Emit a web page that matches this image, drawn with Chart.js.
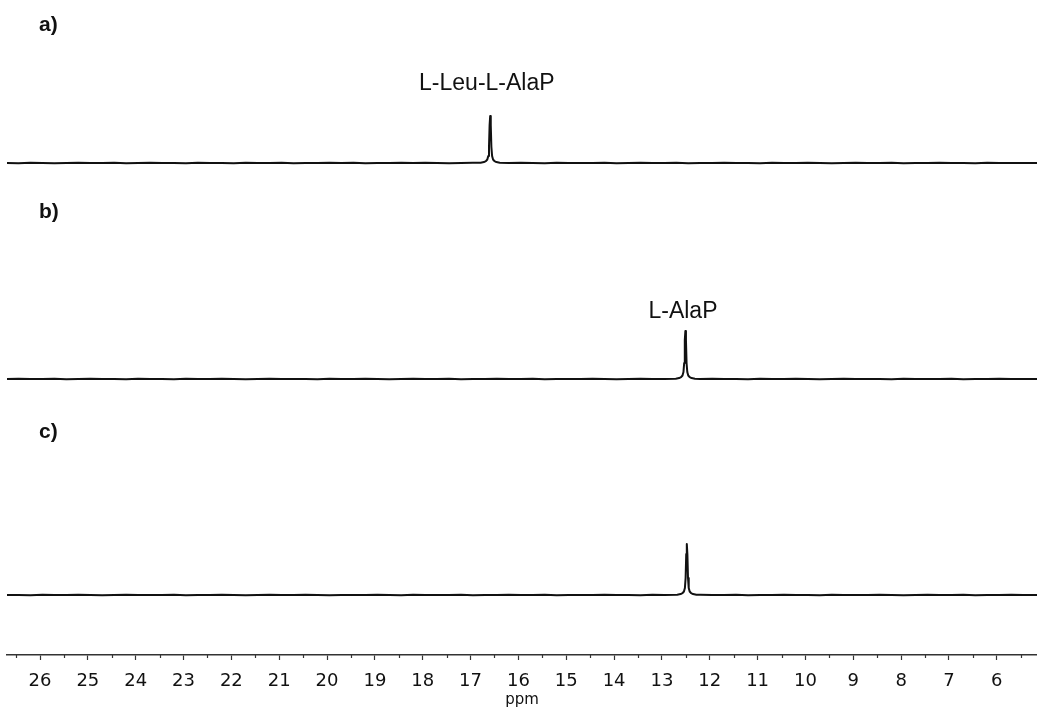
<!DOCTYPE html>
<html>
<head>
<meta charset="utf-8">
<title>NMR spectra</title>
<script src="https://cdn.jsdelivr.net/npm/chart.js@4.4.1/dist/chart.umd.min.js"></script>
<style>
  html, body { margin: 0; padding: 0; background: #fff; }
  #wrap { width: 1037px; height: 709px; }
</style>
</head>
<body>
<div id="wrap"><canvas id="nmr" width="1037" height="709"></canvas></div>
<script>
// x axis (ppm, reversed)
const ppmMin = 5.16;
const ppmMax = 26.69;
const xTicks = [26, 25, 24, 23, 22, 21, 20, 19, 18, 17, 16, 15, 14, 13, 12, 11, 10, 9, 8, 7, 6];

// baseline sample positions (ppm) shared by all three traces
const baselinePpm = [26.69, 26.45, 26.2, 25.95, 25.7, 25.45, 25.2, 24.95, 24.7, 24.45, 24.2, 23.95,
  23.7, 23.45, 23.2, 22.95, 22.7, 22.45, 22.2, 21.95, 21.7, 21.45, 21.2, 20.95, 20.7, 20.45,
  20.2, 19.95, 19.7, 19.45, 19.2, 18.95, 18.7, 18.45, 18.2, 17.95, 17.7, 17.45, 17.2, 16.95,
  16.7, 16.45, 16.2, 15.95, 15.7, 15.45, 15.2, 14.95, 14.7, 14.45, 14.2, 13.95, 13.7, 13.45,
  13.2, 12.95, 12.7, 12.45, 12.2, 11.95, 11.7, 11.45, 11.2, 10.95, 10.7, 10.45, 10.2, 9.95,
  9.7, 9.45, 9.2, 8.95, 8.7, 8.45, 8.2, 7.95, 7.7, 7.45, 7.2, 6.95, 6.7, 6.45, 6.2, 5.95,
  5.7, 5.45, 5.16];

// baseline noise (same units as peak heights)
const noiseA = [0.1, -0.2, 0.2, 0.0, -0.3, 0.1, 0.3, -0.1, 0.0, 0.2, -0.2, 0.1, 0.3, -0.1, 0.1,
  -0.3, 0.2, 0.0, 0.1, -0.2, 0.3, 0.0, -0.1, 0.2, -0.2, 0.1, 0.0, 0.3, -0.1, 0.2, -0.3, 0.1,
  0.0, 0.2, -0.1, 0.3, 0.0, -0.2, 0.1, 0.2, 0.0, 0.1, -0.1, 0.2, 0.0, -0.2, 0.3, 0.1, -0.1,
  0.0, 0.2, -0.2, 0.1, 0.3, -0.1, 0.0, 0.2, -0.2, 0.1, 0.0, 0.3, -0.1, 0.1, -0.2, 0.2, 0.0,
  -0.1, 0.3, 0.0, -0.2, 0.1, 0.2, -0.1, 0.0, 0.3, -0.2, 0.1, 0.0, 0.2, -0.1, 0.1, -0.2, 0.3,
  0.0, 0.1, -0.1, 0.0];
const noiseB = [0.0, 0.2, -0.1, 0.1, 0.3, -0.2, 0.0, 0.2, -0.1, 0.1, -0.3, 0.2, 0.0, 0.1, -0.2,
  0.3, 0.0, -0.1, 0.2, 0.1, -0.2, 0.0, 0.3, -0.1, 0.1, 0.0, -0.2, 0.2, 0.1, -0.1, 0.3, 0.0,
  -0.2, 0.1, 0.2, -0.1, 0.0, 0.3, -0.2, 0.1, 0.0, 0.2, -0.1, 0.1, 0.3, -0.2, 0.0, 0.1, -0.1,
  0.2, 0.0, -0.3, 0.1, 0.2, -0.1, 0.0, 0.1, 0.0, -0.1, 0.2, 0.0, 0.1, -0.2, 0.3, 0.0, -0.1,
  0.2, 0.1, -0.2, 0.0, 0.3, -0.1, 0.1, 0.0, -0.2, 0.2, 0.1, -0.1, 0.0, 0.3, -0.2, 0.1, 0.0,
  0.2, -0.1, 0.1, 0.0];
const noiseC = [0.1, 0.0, -0.2, 0.2, 0.0, -0.1, 0.3, 0.1, -0.2, 0.0, 0.2, -0.1, 0.1, 0.0, 0.3,
  -0.2, 0.1, -0.1, 0.2, 0.0, -0.3, 0.1, 0.2, 0.0, -0.1, 0.3, 0.1, -0.2, 0.0, 0.1, -0.1, 0.2,
  0.0, -0.2, 0.3, 0.1, -0.1, 0.0, 0.2, -0.2, 0.1, 0.0, 0.3, -0.1, 0.0, 0.2, -0.2, 0.1, 0.0,
  -0.1, 0.3, 0.0, 0.1, -0.2, 0.2, 0.0, 0.1, 0.0, 0.2, -0.1, 0.0, 0.3, -0.2, 0.1, 0.0, 0.2,
  -0.1, 0.1, -0.3, 0.2, 0.0, 0.1, -0.1, 0.3, 0.0, -0.2, 0.1, 0.2, -0.1, 0.0, 0.2, -0.2, 0.1,
  0.0, 0.3, -0.1, 0.1];

// peak centres (ppm) and peak shapes (offset from centre in ppm, height)
const peakCentres = [16.59, 12.51, 12.48];
const peakOffsets = [-0.2, -0.13, -0.09, -0.06, -0.04, -0.025, -0.012, 0, 0.012, 0.025, 0.04, 0.06, 0.09, 0.13, 0.2];
const peakA = [0.3, 0.9, 1.8, 3.5, 7, 16, 38, 47, 38, 16, 7, 3.5, 1.8, 0.9, 0.3];
const peakB = [0.3, 0.9, 1.8, 3.5, 7, 16, 39, 48, 39, 16, 7, 3.5, 1.8, 0.9, 0.3];
const peakC = [0.3, 0.9, 1.8, 3.5, 7, 17, 41, 51, 41, 17, 7, 3.5, 1.8, 0.9, 0.3];

// vertical stacking of the three traces (y scale runs 0..655)
const traceOffsets = [492, 276, 60];

// annotations
const panelLabels = ['a)', 'b)', 'c)'];
const panelLabelY = [25, 212, 432];
const peakLabels = ['L-Leu-L-AlaP', 'L-AlaP'];
const peakLabelPpm = [16.66, 12.56];
const peakLabelY = [571, 343];

function buildTrace(noise, centre, shape, offset) {
  const pts = [];
  baselinePpm.forEach((x, i) => {
    if (Math.abs(x - centre) > 0.22) pts.push({ x: x, y: offset + noise[i] });
  });
  peakOffsets.forEach((dx, i) => pts.push({ x: centre + dx, y: offset + shape[i] }));
  pts.sort((p, q) => q.x - p.x);
  return pts;
}

const traces = [
  buildTrace(noiseA, peakCentres[0], peakA, traceOffsets[0]),
  buildTrace(noiseB, peakCentres[1], peakB, traceOffsets[1]),
  buildTrace(noiseC, peakCentres[2], peakC, traceOffsets[2])
];

// minor ticks at half ppm + text annotations
const annotatePlugin = {
  id: 'annotate',
  afterDraw(chart) {
    const ctx = chart.ctx;
    const xs = chart.scales.x;
    const ys = chart.scales.y;
    const axisY = xs.top;
    ctx.save();
    ctx.strokeStyle = '#333';
    ctx.lineWidth = 1.2;
    for (let v = 26.5; v > ppmMin; v -= 1) {
      const px = Math.round(xs.getPixelForValue(v)) + 0.5;
      ctx.beginPath();
      ctx.moveTo(px, axisY);
      ctx.lineTo(px, axisY + 3);
      ctx.stroke();
    }
    ctx.fillStyle = '#111';
    ctx.textBaseline = 'middle';
    ctx.textAlign = 'left';
    ctx.font = 'bold 21px "Liberation Sans", Arial, sans-serif';
    panelLabels.forEach((t, i) => ctx.fillText(t, 39, panelLabelY[i]));
    ctx.textAlign = 'center';
    ctx.font = '23px "Liberation Sans", Arial, sans-serif';
    peakLabels.forEach((t, i) => {
      ctx.fillText(t, xs.getPixelForValue(peakLabelPpm[i]), ys.getPixelForValue(peakLabelY[i]));
    });
    ctx.restore();
  }
};

const lineStyle = {
  borderColor: '#111', borderWidth: 2, pointRadius: 0, tension: 0, fill: false,
  borderJoinStyle: 'round'
};

new Chart(document.getElementById('nmr'), {
  type: 'line',
  data: {
    datasets: [
      Object.assign({ label: 'a', data: traces[0] }, lineStyle),
      Object.assign({ label: 'b', data: traces[1] }, lineStyle),
      Object.assign({ label: 'c', data: traces[2] }, lineStyle)
    ]
  },
  options: {
    responsive: false,
    animation: false,
    layout: { padding: { left: 7, right: 0, top: 0, bottom: 0 } },
    plugins: {
      legend: { display: false },
      tooltip: { enabled: false }
    },
    scales: {
      x: {
        type: 'linear',
        reverse: true,
        min: ppmMin,
        max: ppmMax,
        afterBuildTicks: (s) => { s.ticks = xTicks.map(v => ({ value: v })); },
        afterFit: (s) => { s.height = 54; },
        grid: { drawOnChartArea: false, tickLength: 5, tickColor: '#333', tickWidth: 1.2 },
        border: { color: '#333', width: 1.5 },
        ticks: {
          autoSkip: false,
          maxRotation: 0,
          padding: 11,
          color: '#111',
          font: { family: '"DejaVu Sans", sans-serif', size: 18 },
          callback: (v) => v
        },
        title: {
          display: true,
          text: 'ppm',
          color: '#111',
          font: { family: '"DejaVu Sans", sans-serif', size: 15 },
          padding: { top: -8, bottom: 0 }
        }
      },
      y: { display: false, min: 0, max: 655 }
    }
  },
  plugins: [annotatePlugin]
});
</script>
</body>
</html>
